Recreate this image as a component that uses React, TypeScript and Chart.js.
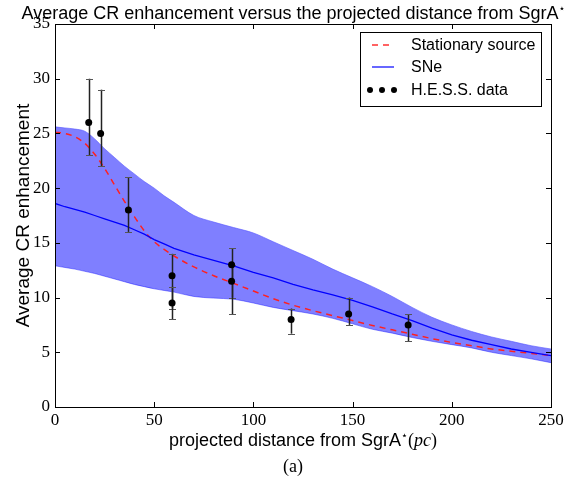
import { useEffect, useRef } from 'react';
import { Chart, registerables } from 'chart.js';

Chart.register(...registerables);

// ---- data ----
const xGrid = [0, 5, 10, 15, 20, 25, 30, 35, 40, 45, 50, 55, 60, 70, 80, 90, 100, 110, 120, 130, 140, 150, 160, 170, 180, 190, 200, 210, 220, 230, 240, 250];
const stationary = [25.1, 25.0, 24.7, 24.1, 23.1, 21.8, 20.3, 18.8, 17.4, 16.1, 15.1, 14.4, 13.8, 12.8, 12.0, 11.3, 10.6, 9.9, 9.3, 8.8, 8.35, 7.9, 7.45, 7.05, 6.65, 6.25, 5.9, 5.6, 5.3, 5.1, 4.9, 4.7];
const sneMean = [18.6, 18.3, 18.05, 17.8, 17.5, 17.2, 16.9, 16.6, 16.2, 15.8, 15.3, 14.9, 14.5, 13.9, 13.4, 12.9, 12.3, 11.8, 11.2, 10.7, 10.25, 9.75, 9.15, 8.5, 7.9, 7.2, 6.6, 6.1, 5.7, 5.3, 5.0, 4.7];
const sneUpper = [25.6, 25.5, 25.4, 25.2, 24.5, 23.6, 22.8, 22.0, 21.3, 20.6, 20.0, 19.3, 18.7, 17.5, 16.9, 16.4, 15.9, 15.1, 14.3, 13.5, 12.6, 11.8, 11.0, 10.1, 9.1, 8.2, 7.5, 6.9, 6.4, 6.0, 5.6, 5.3];
const sneLower = [12.9, 12.75, 12.6, 12.4, 12.2, 11.95, 11.7, 11.45, 11.2, 11.0, 10.8, 10.65, 10.5, 10.1, 9.95, 9.85, 9.5, 9.1, 8.8, 8.5, 8.1, 7.6, 7.1, 6.75, 6.35, 6.0, 5.7, 5.4, 5.0, 4.7, 4.4, 4.05];

const hessX = [17, 23, 37, 59, 59, 89, 89, 119, 148, 178];
const hessY = [26, 25, 18, 12, 9.5, 13, 11.5, 8, 8.5, 7.5];
const hessLow = [23, 22, 16, 9, 8, 10, 8.5, 6.7, 7.5, 6];
const hessHigh = [30, 29, 21, 14, 11, 14.5, 13, 9, 10, 8.5];

const xTicks = [0, 50, 100, 150, 200, 250];
const yTicks = [0, 5, 10, 15, 20, 25, 30, 35];

const titleText = 'Average CR enhancement versus the projected distance from SgrA';
const xTitleText = 'projected distance from SgrA';
const yTitleText = 'Average CR enhancement';
const captionText = '(a)';
const legendLabels = ['Stationary source', 'SNe', 'H.E.S.S. data'];
const STAR = '\u22c6';

const SANS = '"Liberation Sans", Arial, Helvetica, sans-serif';
const SERIF = '"Liberation Serif", "DejaVu Serif", serif';
const STARFONT = '"DejaVu Sans", sans-serif';

const pts = (ys: number[]) => xGrid.map((x, i) => ({ x, y: ys[i] }));

const decor = {
  id: 'decor',
  beforeDatasetDraw(chart: any, args: any) {
    if (args.index !== 0) return;
    const ctx = chart.ctx;
    const xs = chart.scales.x;
    const ys = chart.scales.y;
    ctx.save();
    for (let i = 0; i < hessX.length; i++) {
      const px = Math.round(xs.getPixelForValue(hessX[i])) + 0.5;
      const pl = ys.getPixelForValue(hessLow[i]);
      const ph = ys.getPixelForValue(hessHigh[i]);
      ctx.strokeStyle = '#222';
      ctx.lineWidth = 1.5;
      ctx.beginPath();
      ctx.moveTo(px, pl);
      ctx.lineTo(px, ph);
      ctx.stroke();
      ctx.strokeStyle = '#555';
      ctx.lineWidth = 1;
      ctx.beginPath();
      ctx.moveTo(px - 3.5, Math.round(pl) + 0.5);
      ctx.lineTo(px + 3.5, Math.round(pl) + 0.5);
      ctx.moveTo(px - 3.5, Math.round(ph) + 0.5);
      ctx.lineTo(px + 3.5, Math.round(ph) + 0.5);
      ctx.stroke();
    }
    ctx.restore();
  },
  afterDraw(chart: any) {
    const ctx = chart.ctx;
    const { left, right, top, bottom } = chart.chartArea;
    const xs = chart.scales.x;
    const ys = chart.scales.y;
    ctx.save();
    // frame
    ctx.strokeStyle = '#000';
    ctx.lineWidth = 1;
    ctx.strokeRect(Math.round(left) + 0.5, Math.round(top) + 0.5, Math.round(right - left), Math.round(bottom - top));
    // inward ticks
    ctx.beginPath();
    const tl = 5;
    xTicks.forEach((v) => {
      const p = Math.round(xs.getPixelForValue(v)) + 0.5;
      ctx.moveTo(p, bottom);
      ctx.lineTo(p, bottom - tl);
      ctx.moveTo(p, top);
      ctx.lineTo(p, top + tl);
    });
    yTicks.forEach((v) => {
      const p = Math.round(ys.getPixelForValue(v)) + 0.5;
      ctx.moveTo(left, p);
      ctx.lineTo(left + tl, p);
      ctx.moveTo(right, p);
      ctx.lineTo(right - tl, p);
    });
    ctx.stroke();

    // legend
    const lx = 360.5, ly = 32.5, lw = 181, lh = 74;
    ctx.fillStyle = '#fff';
    ctx.fillRect(lx, ly, lw, lh);
    ctx.strokeStyle = '#000';
    ctx.strokeRect(lx, ly, lw, lh);
    const rowY = [45, 67, 90];
    ctx.strokeStyle = '#ff3030';
    ctx.lineWidth = 1.5;
    ctx.setLineDash([6, 5]);
    ctx.beginPath();
    ctx.moveTo(372, rowY[0]);
    ctx.lineTo(394, rowY[0]);
    ctx.stroke();
    ctx.setLineDash([]);
    ctx.strokeStyle = '#0000ff';
    ctx.lineWidth = 1.2;
    ctx.beginPath();
    ctx.moveTo(372, rowY[1]);
    ctx.lineTo(394, rowY[1]);
    ctx.stroke();
    ctx.fillStyle = '#000';
    [370, 382, 394].forEach((cx) => {
      ctx.beginPath();
      ctx.arc(cx, rowY[2], 3, 0, Math.PI * 2);
      ctx.fill();
    });
    ctx.font = `16px ${SANS}`;
    ctx.textBaseline = 'middle';
    ctx.textAlign = 'left';
    legendLabels.forEach((t, i) => ctx.fillText(t, 411, rowY[i] + 1));

    // title
    ctx.textBaseline = 'alphabetic';
    ctx.font = `18px ${SANS}`;
    const tw = ctx.measureText(titleText).width;
    ctx.font = `11px ${STARFONT}`;
    const sw = ctx.measureText(STAR).width;
    const tx = 293.5 - (tw + sw) / 2;
    ctx.font = `18px ${SANS}`;
    ctx.fillText(titleText, tx, 19);
    ctx.font = `11px ${STARFONT}`;
    ctx.fillText(STAR, tx + tw, 12);

    // x title
    ctx.font = `18px ${SANS}`;
    const xw1 = ctx.measureText(xTitleText).width;
    ctx.font = `11px ${STARFONT}`;
    const xw2 = ctx.measureText(STAR).width;
    ctx.font = `18px ${SERIF}`;
    const xw3a = ctx.measureText('(').width;
    ctx.font = `italic 18px ${SERIF}`;
    const xw3b = ctx.measureText('pc').width;
    ctx.font = `18px ${SERIF}`;
    const xw3c = ctx.measureText(')').width;
    const total = xw1 + xw2 + xw3a + xw3b + xw3c;
    let cx = (left + right) / 2 - total / 2;
    const by = 446;
    ctx.font = `18px ${SANS}`;
    ctx.fillText(xTitleText, cx, by);
    cx += xw1;
    ctx.font = `11px ${STARFONT}`;
    ctx.fillText(STAR, cx, by - 7);
    cx += xw2;
    ctx.font = `18px ${SERIF}`;
    ctx.fillText('(', cx, by);
    cx += xw3a;
    ctx.font = `italic 18px ${SERIF}`;
    ctx.fillText('pc', cx, by);
    cx += xw3b;
    ctx.font = `18px ${SERIF}`;
    ctx.fillText(')', cx, by);

    // y title
    ctx.save();
    ctx.translate(29, (top + bottom) / 2);
    ctx.rotate(-Math.PI / 2);
    ctx.textAlign = 'center';
    ctx.font = `19px ${SANS}`;
    ctx.fillText(yTitleText, 0, 0);
    ctx.restore();

    // caption
    ctx.textAlign = 'center';
    ctx.font = `18px ${SERIF}`;
    ctx.fillText(captionText, 293, 472);
    ctx.restore();
  },
};

export default function App() {
  const ref = useRef<HTMLCanvasElement | null>(null);
  useEffect(() => {
    if (!ref.current) return;
    const chart = new Chart(ref.current, {
      type: 'line',
      data: {
        datasets: [
          {
            label: 'H.E.S.S. data',
            data: hessX.map((x, i) => ({ x, y: hessY[i] })),
            showLine: false,
            pointRadius: 3.5,
            pointBackgroundColor: '#000',
            pointBorderColor: '#000',
            pointBorderWidth: 0,
            order: 0,
          },
          {
            label: 'SNe',
            data: pts(sneMean),
            borderColor: '#0000ff',
            borderWidth: 1.3,
            pointRadius: 0,
            fill: false,
            tension: 0,
            order: 1,
          },
          {
            label: 'Stationary source',
            data: pts(stationary),
            borderColor: '#ff2020',
            borderWidth: 1.5,
            borderDash: [6, 5],
            pointRadius: 0,
            fill: false,
            cubicInterpolationMode: 'monotone',
            order: 2,
          },
          {
            label: 'upper',
            data: pts(sneUpper),
            borderColor: 'rgba(90,90,255,0.8)',
            borderWidth: 0.8,
            backgroundColor: 'rgba(0,0,255,0.5)',
            pointRadius: 0,
            fill: '+1',
            cubicInterpolationMode: 'monotone',
            order: 3,
          },
          {
            label: 'lower',
            data: pts(sneLower),
            borderColor: 'rgba(90,90,255,0.8)',
            borderWidth: 0.8,
            pointRadius: 0,
            fill: false,
            cubicInterpolationMode: 'monotone',
            order: 4,
          },
        ],
      },
      options: {
        responsive: false,
        animation: false,
        layout: { padding: { top: 24, right: 36, left: 0, bottom: 0 } },
        plugins: { legend: { display: false }, tooltip: { enabled: false }, title: { display: false } },
        scales: {
          x: {
            type: 'linear',
            min: 0,
            max: 250,
            grid: { display: false, drawTicks: false },
            border: { display: false },
            afterBuildTicks: (s: any) => { s.ticks = xTicks.map((v) => ({ value: v })); },
            afterFit: (s: any) => { s.height = 84; },
            ticks: { color: '#000', font: { family: SERIF, size: 17 }, padding: 3, maxRotation: 0 },
          },
          y: {
            min: 0,
            max: 35,
            grid: { display: false, drawTicks: false },
            border: { display: false },
            afterBuildTicks: (s: any) => { s.ticks = yTicks.map((v) => ({ value: v })); },
            afterFit: (s: any) => { s.width = 55; },
            ticks: { color: '#000', font: { family: SERIF, size: 17 }, padding: 5 },
          },
        },
      },
      plugins: [decor],
    } as any);
    return () => chart.destroy();
  }, []);
  return (
    <div style={{ position: 'absolute', left: 0, top: 0, width: 587, height: 491 }}>
      <canvas ref={ref} width={587} height={491} style={{ display: 'block' }} />
    </div>
  );
}
